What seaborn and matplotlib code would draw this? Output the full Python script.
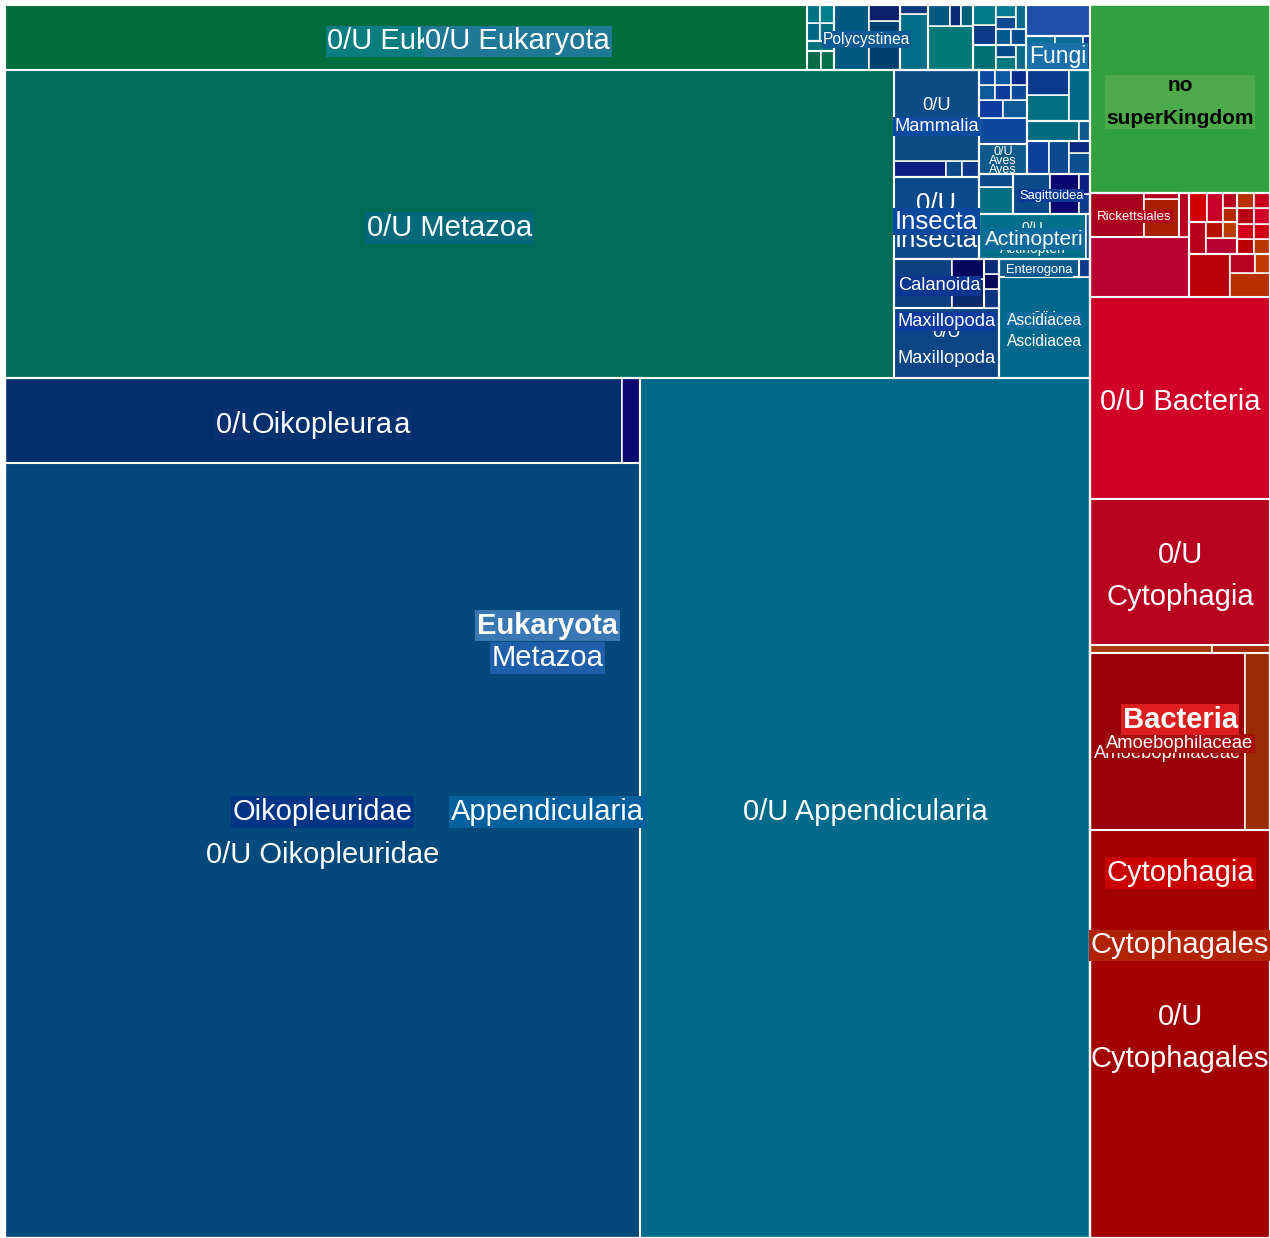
import matplotlib
matplotlib.use("Agg")
import matplotlib.pyplot as plt
from matplotlib.patches import Rectangle
import seaborn as sns

sns.set_theme(style="white")
plt.rcParams["font.family"] = ["Liberation Sans", "DejaVu Sans"]

# ======================= DATA (areas, arbitrary units) =======================
# --- Eukaryota > Metazoa > Appendicularia
oikopleura_names = ["0/U Oikopleura", "Oikopleura sp."]
oikopleura_vals = [52445, 1530]
oikopleura_cols = ["#002f6b", "#07076e"]
oikopleuridae_unassigned = 492125
appendicularia_unassigned = 387000
metazoa_unassigned = 274120

# --- other Metazoa classes
maxillopoda_unassigned = 7370
calanoida_vals = [2860, 900, 650]
calanoida_cols = ["#0a4080", "#082a6c", "#05065e"]
maxillopoda_small_vals = [266, 224, 210]
maxillopoda_small_cols = ["#0a3580", "#06065a", "#0a2a78"]
ascidiacea_unassigned = 9260
enterogona_vals = [1440]
ascidiacea_small_vals = [200]
insecta_unassigned = 6960
mammalia_small_vals = [830, 270, 270]
mammalia_small_cols = ["#0a2080", "#0b4a8a", "#0a3a8a"]
mammalia_unassigned = 7830
actinopteri_unassigned = 4845
actinopteri_small_vals = [200]
aves_unassigned = 1457
sagittoidea_vals = [1457, 1152, 216, 216]
sagittoidea_cols = ["#0b4a88", "#06066e", "#0a3a8a", "#0a2080"]
metazoa_x_vals = [900, 420]
metazoa_x_cols = ["#007082", "#0a4a8a"]
metazoa_y_vals = [1000, 217]
metazoa_y_cols = ["#006a80", "#0a5a90"]
metazoa_z_vals = [725, 700, 450, 250]
metazoa_z_cols = ["#0b3f99", "#0b4a8f", "#0a5090", "#0a2a80"]
metazoa_w_vals = [1218, 441, 441, 240, 240, 240, 240, 240, 240]
metazoa_w_cols = ["#0b4a99", "#0b3aa0", "#0b5a95", "#0a5a9a", "#0b4aa0",
                  "#0a3a9a", "#0b5aa0", "#0a4a96", "#0a2a8a"]
metazoa_s_vals = [1100, 1050, 1100]
metazoa_s_cols = ["#00707e", "#0a3a8a", "#006a86"]

# --- Eukaryota, non-Metazoa
eukaryota_unassigned = 51870
euk_g1_vals = [270, 250]
euk_g1_cols = ["#0a6a48", "#05704a"]
euk_g2_vals = [260]
euk_g2_cols = ["#00707a"]
euk_g3_vals = [250, 245, 240, 240]
euk_g3_cols = ["#006a86", "#007080", "#007485", "#00808a"]
polycystinea_vals = [2275, 1519, 496]
polycystinea_cols = ["#005a80", "#00406e", "#0a1e6a"]
euk_g5_vals = [1568, 252]
euk_g5_cols = ["#006e86", "#0a3a7c"]
euk_g6_vals = [1935, 462, 242, 242]
euk_g6_cols = ["#007878", "#005880", "#0a2a78", "#00607a"]
euk_g7_vals = [580, 240, 240, 240]
euk_g7_cols = ["#007075", "#00787e", "#004a88", "#0a6a8a"]
euk_g8_vals = [460, 460, 242, 242, 242, 240, 238]
euk_g8_cols = ["#0a3a88", "#007a8a", "#005a90", "#004c8c", "#0b4a92", "#007a90", "#006a8a"]
fungi_vals = [1000, 950, 230]
fungi_cols = ["#00709a", "#0a6a9a", "#0a3a90"]
euk_g9_vals = [2000]
euk_g9_cols = ["#1f4ea8"]

# --- Bacteria
cytophagales_unassigned = 73440
amoebophilaceae_vals = [27435, 4425]
amoebophilaceae_cols = ["#990006", "#992c00"]
cytophagales_small_vals = [976, 464]
cytophagales_small_cols = ["#a83a00", "#a82800"]
cytophagia_unassigned = 26100
bacteria_unassigned = 36360
alpha_unassigned = 6000
rickettsiales_vals = [2350, 1300, 210]
rickettsiales_cols = ["#a8001c", "#a82000", "#b0001a"]
alpha_small_vals = [430]
bac_g1_vals = [1750, 1000, 450, 280]
bac_g1_cols = ["#b80006", "#b83000", "#b80020", "#c03a00"]
bac_g2_vals = [560, 520, 250, 220]
bac_g2_cols = ["#b8001a", "#b80030", "#b81000", "#b83a00"]
bac_g3_vals = [525, 475, 210, 210]
bac_g3_cols = ["#d00000", "#c80028", "#b82800", "#b8001c"]
bac_g4_vals = [250, 250, 250, 250, 250, 250, 250, 250]
bac_g4_cols = ["#b80000", "#b83800", "#d0001a", "#d00010",
               "#b80014", "#b83000", "#d0002a", "#c8001a"]

no_superkingdom = 33840

# ======================= TREE =======================
def leaf(name, value, color):
    return {"name": name, "value": float(value), "color": color, "children": []}


def group(name, children):
    return {"name": name, "value": sum(c["value"] for c in children),
            "color": None, "children": children}


def cells(prefix, values, colors):
    return [leaf(f"{prefix}#{i}", v, c) for i, (v, c) in enumerate(zip(values, colors))]


oikopleura = group("Oikopleura", [leaf(n, v, c) for n, v, c in
                                  zip(oikopleura_names, oikopleura_vals, oikopleura_cols)])
oikopleuridae = group("Oikopleuridae", [
    leaf("0/U Oikopleuridae", oikopleuridae_unassigned, "#00497a"), oikopleura])
appendicularia = group("Appendicularia", [
    oikopleuridae, leaf("0/U Appendicularia", appendicularia_unassigned, "#006a8a")])

maxillopoda = group("Maxillopoda", [
    leaf("0/U Maxillopoda", maxillopoda_unassigned, "#0b4585"),
    group("Calanoida", cells("cal", calanoida_vals, calanoida_cols)),
    *cells("maxs", maxillopoda_small_vals, maxillopoda_small_cols)])
ascidiacea = group("Ascidiacea", [
    leaf("0/U Ascidiacea", ascidiacea_unassigned, "#00688a"),
    group("Enterogona", cells("ent", enterogona_vals, ["#0b5a8a"])),
    *cells("ascs", ascidiacea_small_vals, ["#0a3a8a"])])
insecta = group("Insecta", [leaf("0/U Insecta", insecta_unassigned, "#0b4a8a")])
mammalia = group("Mammalia", [
    *cells("mams", mammalia_small_vals, mammalia_small_cols),
    leaf("0/U Mammalia", mammalia_unassigned, "#0b4c86")])
actinopteri = group("Actinopteri", [
    leaf("0/U Actinopteri", actinopteri_unassigned, "#00708a"),
    *cells("acts", actinopteri_small_vals, ["#0a4a8a"])])
metazoa_x = group("MetX", cells("mx", metazoa_x_vals, metazoa_x_cols))
sagittoidea = group("Sagittoidea", cells("sag", sagittoidea_vals, sagittoidea_cols))
aves = group("Aves", [leaf("0/U Aves", aves_unassigned, "#0b5a8a")])
metazoa_y = group("MetY", cells("my", metazoa_y_vals, metazoa_y_cols))
metazoa_z = group("MetZ", cells("mz", metazoa_z_vals, metazoa_z_cols))
metazoa_w = group("MetW", cells("mw", metazoa_w_vals, metazoa_w_cols))
metazoa_s = group("MetS", cells("ms", metazoa_s_vals, metazoa_s_cols))

metazoa = group("Metazoa", [
    appendicularia, leaf("0/U Metazoa", metazoa_unassigned, "#006c56"),
    maxillopoda, ascidiacea, insecta, mammalia, actinopteri,
    metazoa_x, sagittoidea, aves, metazoa_w, metazoa_z, metazoa_y, metazoa_s])

eukaryota = group("Eukaryota", [
    metazoa, leaf("0/U Eukaryota", eukaryota_unassigned, "#006d3f"),
    group("EukG1", cells("e1", euk_g1_vals, euk_g1_cols)),
    group("EukG2", cells("e2", euk_g2_vals, euk_g2_cols)),
    group("EukG3", cells("e3", euk_g3_vals, euk_g3_cols)),
    group("Polycystinea", cells("pc", polycystinea_vals, polycystinea_cols)),
    group("EukG5", cells("e5", euk_g5_vals, euk_g5_cols)),
    group("EukG6", cells("e6", euk_g6_vals, euk_g6_cols)),
    group("EukG7", cells("e7", euk_g7_vals, euk_g7_cols)),
    group("EukG8", cells("e8", euk_g8_vals, euk_g8_cols)),
    group("Fungi", cells("fu", fungi_vals, fungi_cols)),
    group("EukG9", cells("e9", euk_g9_vals, euk_g9_cols))])

amoebophilaceae = group("Amoebophilaceae", [
    leaf("0/U Amoebophilaceae", amoebophilaceae_vals[0], amoebophilaceae_cols[0]),
    leaf("Amoebo sp.", amoebophilaceae_vals[1], amoebophilaceae_cols[1])])
cytophagales = group("Cytophagales", [
    leaf("0/U Cytophagales", cytophagales_unassigned, "#a30000"),
    amoebophilaceae, *cells("cys", cytophagales_small_vals, cytophagales_small_cols)])
cytophagia = group("Cytophagia", [
    cytophagales, leaf("0/U Cytophagia", cytophagia_unassigned, "#b8001f")])
alpha = group("Alphaproteobacteria", [
    leaf("0/U Alphaproteobacteria", alpha_unassigned, "#b80034"),
    group("Rickettsiales", cells("ric", rickettsiales_vals, rickettsiales_cols)),
    *cells("als", alpha_small_vals, ["#b8001e"])])
bacteria = group("Bacteria", [
    cytophagia, leaf("0/U Bacteria", bacteria_unassigned, "#d00026"), alpha,
    group("BacG1", cells("b1", bac_g1_vals, bac_g1_cols)),
    group("BacG2", cells("b2", bac_g2_vals, bac_g2_cols)),
    group("BacG3", cells("b3", bac_g3_vals, bac_g3_cols)),
    group("BacG4", cells("b4", bac_g4_vals, bac_g4_cols))])

root = group("root", [eukaryota, bacteria,
                      leaf("no superKingdom", no_superkingdom, "#33a03f")])

# ======================= LABEL STYLES =======================
BIG = 21
labels = {
    "0/U Eukaryota": [dict(text="0/U Eukaryota", size=BIG, bg="#0a7d80", dx=14),
                      dict(text="0/U Eukaryota", size=BIG, bg="#1e7896", dx=112)],
    "Polycystinea": [dict(text="Polycystinea", size=11.2, bg="#0b5a94")],
    "Fungi": [dict(text="Fungi", size=16.5, bg="#1a70a8")],
    "0/U Metazoa": [dict(text="0/U Metazoa", size=BIG, bg="#00697a")],
    "Mammalia": [dict(text="Mammalia", size=13.2, bg="#0a4aa0")],
    "0/U Mammalia": [dict(text="0/U\nMammalia", size=13.2)],
    "Aves": [dict(text="Aves", size=9)],
    "0/U Aves": [dict(text="0/U\nAves", size=9)],
    "Sagittoidea": [dict(text="Sagittoidea", size=9.3, bg="#0a3a96")],
    "Insecta": [dict(text="Insecta", size=18.5, bg="#0a48a0")],
    "0/U Insecta": [dict(text="0/U\nInsecta", size=18.5)],
    "Actinopteri": [dict(text="Actinopteri", size=15, bg="#0a6a9a")],
    "0/U Actinopteri": [dict(text="0/U\nActinopteri", size=10)],
    "Enterogona": [dict(text="Enterogona", size=9.3, bg="#0b5a8e")],
    "Calanoida": [dict(text="Calanoida", size=13.2, bg="#0a3590")],
    "Maxillopoda": [dict(text="Maxillopoda", size=13.2, bg="#0a3a9e")],
    "0/U Maxillopoda": [dict(text="0/U\nMaxillopoda", size=13.2)],
    "Ascidiacea": [dict(text="Ascidiacea", size=11.2, bg="#0b6a9a")],
    "0/U Ascidiacea": [dict(text="0/U\nAscidiacea", size=11.2)],
    "Oikopleura": [dict(text="Oikopleura", size=BIG, bg="#00306e")],
    "0/U Oikopleura": [dict(text="0/U Oikopleura", size=BIG, bg="#0a3070")],
    "Eukaryota": [dict(text="Eukaryota", size=BIG, bold=True, bg="#3a78b4")],
    "Metazoa": [dict(text="Metazoa", size=BIG, bg="#1f5ea8")],
    "Oikopleuridae": [dict(text="Oikopleuridae", size=BIG, bg="#003585")],
    "0/U Oikopleuridae": [dict(text="0/U Oikopleuridae", size=BIG)],
    "Appendicularia": [dict(text="Appendicularia", size=BIG, bg="#00609e")],
    "0/U Appendicularia": [dict(text="0/U Appendicularia", size=BIG)],
    "no superKingdom": [dict(text="no\nsuperKingdom", size=15, bold=True,
                             color="black", bg="#4caa4a", ls=1.9)],
    "Rickettsiales": [dict(text="Rickettsiales", size=9.5, bg="#b0001e")],
    "0/U Bacteria": [dict(text="0/U Bacteria", size=BIG)],
    "0/U Cytophagia": [dict(text="0/U\nCytophagia", size=BIG)],
    "Bacteria": [dict(text="Bacteria", size=BIG, bold=True, bg="#dd1e1e")],
    "Amoebophilaceae": [dict(text="Amoebophilaceae", size=13.2, bg="#a50c0c")],
    "0/U Amoebophilaceae": [dict(text="0/U\nAmoebophilaceae", size=13.2, ls=1.2)],
    "Cytophagia": [dict(text="Cytophagia", size=BIG, bg="#c80000")],
    "Cytophagales": [dict(text="Cytophagales", size=BIG, bg="#b02200")],
    "0/U Cytophagales": [dict(text="0/U\nCytophagales", size=BIG)],
}


# ======================= SQUARIFY LAYOUT (d3 style) =======================
def squarify(node, x0, y0, x1, y1, ratio=1.0):
    node["rect"] = (x0, y0, x1, y1)
    kids = node["children"]
    if not kids:
        return
    value = node["value"]
    n = len(kids)
    i0 = i1 = 0
    while i0 < n:
        dx, dy = x1 - x0, y1 - y0
        sumv = kids[i1]["value"]
        i1 += 1
        minv = maxv = sumv
        alpha = max(dy / dx, dx / dy) / (value * ratio)
        beta = sumv * sumv * alpha
        min_ratio = max(maxv / beta, beta / minv)
        while i1 < n:
            v = kids[i1]["value"]
            s = sumv + v
            mn, mx = min(minv, v), max(maxv, v)
            beta = s * s * alpha
            nr = max(mx / beta, beta / mn)
            if nr > min_ratio:
                break
            sumv, minv, maxv, min_ratio = s, mn, mx, nr
            i1 += 1
        row = kids[i0:i1]
        if dx < dy:
            yy = y0 + dy * sumv / value
            xx = x0
            for c in row:
                w = dx * c["value"] / sumv
                c["rect"] = (xx, y0, xx + w, yy)
                xx += w
            y0 = yy
        else:
            xx = x0 + dx * sumv / value
            yy = y0
            for c in row:
                h = dy * c["value"] / sumv
                c["rect"] = (x0, yy, xx, yy + h)
                yy += h
            x0 = xx
        value -= sumv
        i0 = i1
    for c in kids:
        squarify(c, *c["rect"], ratio=ratio)


W_PX, H_PX = 1270, 1238
squarify(root, 5, 0, 1270, 1233)


def walk(node, depth=0):
    yield node, depth
    for c in node["children"]:
        yield from walk(c, depth + 1)


# ======================= DRAW =======================
fig = plt.figure(figsize=(W_PX / 100, H_PX / 100), dpi=100)
ax = fig.add_axes([0, 0, 1, 1])
ax.set_xlim(0, W_PX)
ax.set_ylim(0, H_PX)
ax.axis("off")

for node, depth in walk(root):
    if depth == 0:
        continue
    x0, y0, x1, y1 = node["rect"]
    if not node["children"]:
        ax.add_patch(Rectangle((x0, y0), x1 - x0, y1 - y0, facecolor=node["color"],
                               edgecolor="white", linewidth=1.1, zorder=2))
    else:
        ax.add_patch(Rectangle((x0, y0), x1 - x0, y1 - y0, facecolor="none",
                               edgecolor="white", linewidth=1.5, zorder=3))

for node, depth in walk(root):
    for spec in labels.get(node["name"], []):
        x0, y0, x1, y1 = node["rect"]
        font_px = spec["size"] * 100 / 72
        cx = (x0 + x1) / 2 + spec.get("dx", 0)
        cy = (y0 + y1) / 2 + spec.get("dy", 0) - 0.14 * font_px
        bbox = None
        if spec.get("bg"):
            bbox = dict(boxstyle="square,pad=0.06", facecolor=spec["bg"], edgecolor="none")
        ax.text(cx, cy, spec["text"], ha="center", va="center",
                fontsize=spec["size"], color=spec.get("color", "white"),
                fontweight="bold" if spec.get("bold") else "normal",
                linespacing=spec.get("ls", 1.65), bbox=bbox, zorder=20 - depth)

fig.savefig("out.png", dpi=100, facecolor="white")
